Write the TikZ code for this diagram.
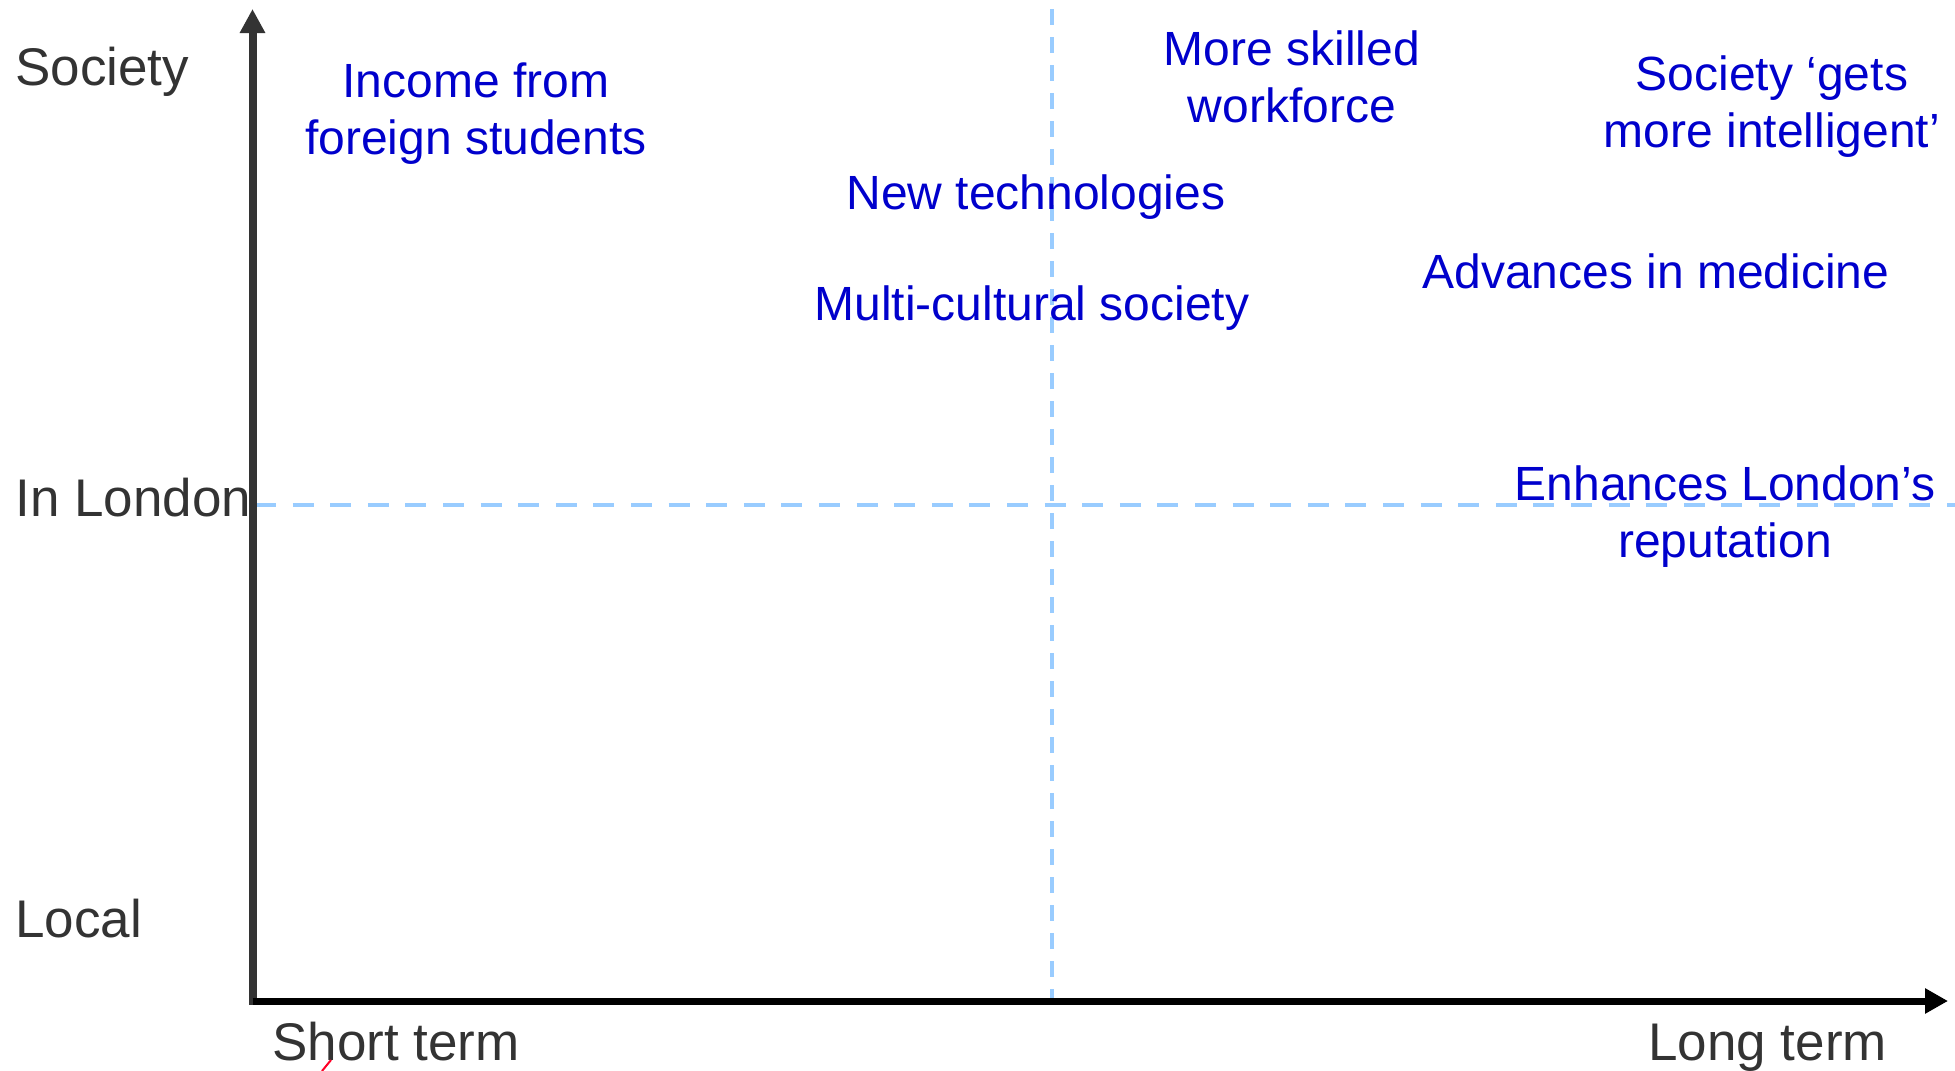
\documentclass[tikz,border=0pt]{standalone}
\usepackage{fontspec}
\setmainfont{Liberation Sans}
\usepackage{xcolor}
\usetikzlibrary{arrows.meta}

\definecolor{axisgray}{HTML}{333333}
\definecolor{itemblue}{HTML}{0000CC}
\definecolor{gridblue}{HTML}{99CCFF}

\begin{document}
\begin{tikzpicture}[x=0.5pt,y=-0.5pt,
	axislabel/.style={anchor=base west,inner sep=0pt,text=axisgray,font=\fontsize{26.5}{30}\selectfont},
	item/.style={anchor=base,inner sep=0pt,align=center,text=itemblue,font=\fontsize{24}{28.5}\selectfont}]
	\useasboundingbox (0,0) rectangle (1955,1071);

	% quadrant lines
	\coordinate (mid west) at (255,505);
	\coordinate (mid east) at (1955,505);
	\coordinate (mid north) at (1052,9);
	\coordinate (mid south) at (1052,1001);
	\draw[gridblue,line width=2.25pt,dash pattern=on 10.5pt off 8.3pt] (mid west) -- (mid east);
	\draw[gridblue,line width=1.75pt,dash pattern=on 7.75pt off 6.25pt] (mid north) -- (mid south);

	% axes
	\coordinate (origin) at (252.5,1001);
	\coordinate (top) at (252.5,9);
	\coordinate (right) at (1948,1001);
	\draw[axisgray,line width=4pt,-{Triangle[length=12pt,width=12pt]}] (252.5,1004.5) -- (top);
	\draw[black,line width=3.5pt,-{Triangle[length=11.5pt,width=12pt]}] (origin) -- (right);

	% scale labels
	\node[axislabel] (society) at (15,85) {Society};
	\node[axislabel] (london) at (15,516) {In London};
	\node[axislabel] (local) at (15,937) {Local};
	\node[axislabel] (short) at (272,1060) {Short term};
	\node[axislabel] (long) at (1648,1060) {Long term};

	% benefits (two-line ones sit on their last line)
	\node[item] (income) at (476,154) {Income from\\foreign students};
	\node[item] (skilled) at (1292,122) {More skilled\\workforce};
	\node[item] (intelligent) at (1772,147) {Society ‘gets\\more intelligent’};
	\node[item] (tech) at (1036,209) {New technologies};
	\node[item] (culture) at (1032,320) {Multi-cultural society};
	\node[item] (medicine) at (1656,288) {Advances in medicine};
	\node[item] (reputation) at (1725,557) {Enhances London’s\\reputation};

	\draw[red!85!magenta,line width=1pt] (322,1071) -- (331,1060);
\end{tikzpicture}
\end{document}
